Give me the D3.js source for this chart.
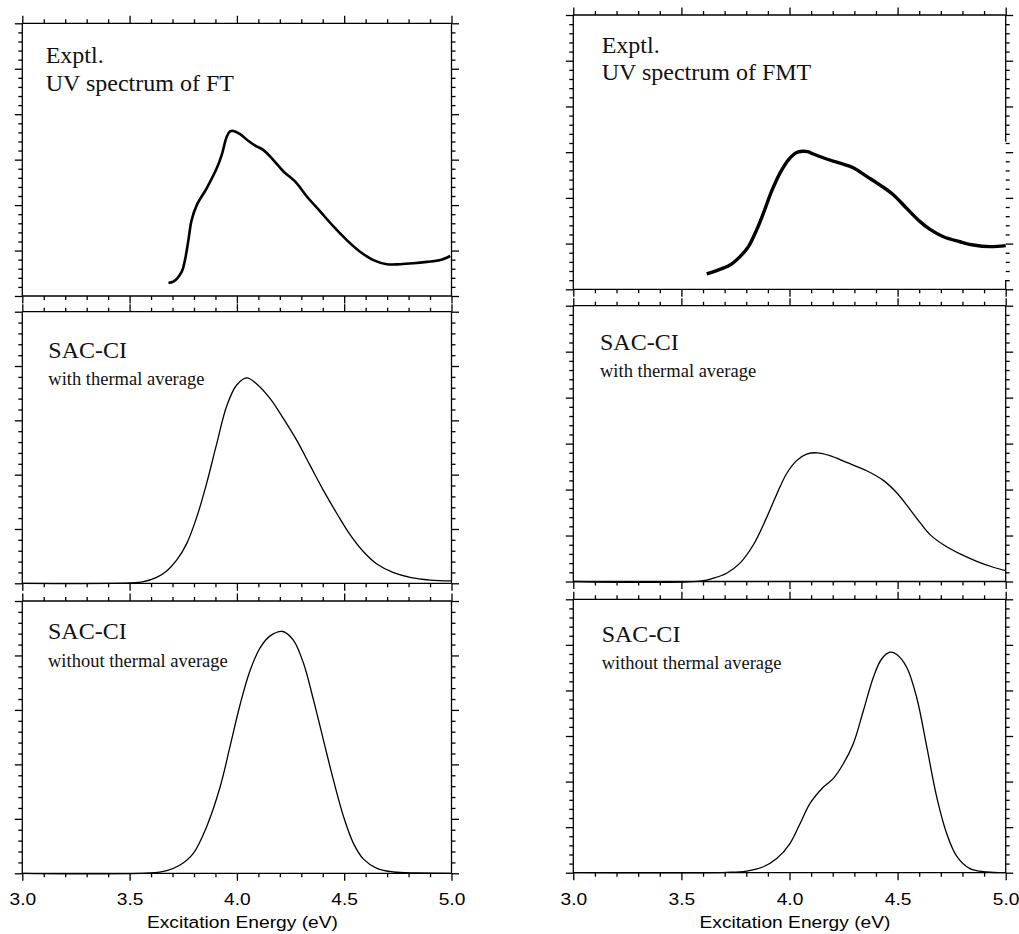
<!DOCTYPE html>
<html>
<head>
<meta charset="utf-8">
<script src="https://cdn.jsdelivr.net/npm/d3@7"></script>
<style>
  html, body { margin: 0; padding: 0; background: #fff; }
  svg { display: block; }
</style>
</head>
<body>
<svg id="chart" width="1019" height="934"></svg>
<script>
// ---------------- DATA ----------------
const xMajorTicks = [3.0, 3.5, 4.0, 4.5, 5.0];
const xTickLabels = ["3.0", "3.5", "4.0", "4.5", "5.0"];
const xAxisTitle = "Excitation Energy (eV)";

// FT experimental UV spectrum
const ftExptlE = [3.681,3.704,3.743,3.758,3.774,3.789,3.813,3.859,3.906,3.929,3.953,3.968,3.984,4.015,4.054,4.085,4.124,4.170,4.217,4.271,4.326,4.388,4.450,4.512,4.574,4.636,4.699,4.761,4.823,4.885,4.947,4.994];
const ftExptlI = [0.293,0.315,0.535,0.79,1.23,1.67,2.0,2.37,2.81,3.10,3.51,3.62,3.63,3.56,3.41,3.31,3.21,2.99,2.74,2.52,2.19,1.86,1.53,1.23,0.975,0.79,0.70,0.70,0.72,0.75,0.79,0.88];

// FMT experimental UV spectrum
const fmtExptlE = [3.617,3.663,3.725,3.771,3.810,3.848,3.879,3.917,3.956,3.995,4.033,4.060,4.085,4.110,4.172,4.234,4.295,4.357,4.419,4.480,4.542,4.604,4.650,4.712,4.789,4.850,4.928,5.0];
const fmtExptlI = [0.336,0.41,0.53,0.715,0.934,1.30,1.66,2.14,2.54,2.83,2.99,3.02,3.01,2.96,2.85,2.76,2.66,2.47,2.28,2.07,1.77,1.48,1.31,1.15,1.04,0.97,0.934,0.956];

// FT SAC-CI with thermal average
const ftThermE = [3.0,3.502,3.564,3.626,3.673,3.720,3.766,3.813,3.859,3.906,3.953,3.999,4.046,4.092,4.155,4.217,4.279,4.341,4.403,4.465,4.528,4.590,4.652,4.730,4.807,4.901,5.0];
const ftThermI = [0,0.006,0.03,0.11,0.226,0.43,0.73,1.22,1.84,2.57,3.27,3.65,3.78,3.67,3.40,3.03,2.63,2.17,1.71,1.29,0.89,0.58,0.355,0.196,0.11,0.06,0.043];

// FMT SAC-CI with thermal average
const fmtThermE = [3.0,3.586,3.648,3.709,3.771,3.833,3.894,3.941,3.987,4.033,4.079,4.126,4.187,4.264,4.357,4.434,4.496,4.557,4.604,4.650,4.712,4.789,4.866,4.943,5.0];
const fmtThermI = [0,0.007,0.073,0.18,0.40,0.80,1.39,1.90,2.35,2.63,2.77,2.80,2.74,2.59,2.41,2.20,1.93,1.57,1.28,1.02,0.80,0.60,0.44,0.31,0.234];

// FT SAC-CI without thermal average
const ftNoThermE = [3.0,3.595,3.673,3.735,3.797,3.859,3.922,3.968,4.015,4.061,4.108,4.155,4.214,4.263,4.310,4.357,4.403,4.450,4.497,4.543,4.590,4.652,4.730,4.838,5.0];
const ftNoThermI = [0,0.006,0.05,0.153,0.367,0.857,1.59,2.33,3.10,3.72,4.14,4.36,4.44,4.28,3.86,3.18,2.45,1.71,1.04,0.55,0.26,0.092,0.024,0.006,0];

// FMT SAC-CI without thermal average
const fmtNoThermE = [3.0,3.709,3.802,3.879,3.941,4.002,4.049,4.095,4.157,4.203,4.249,4.295,4.342,4.388,4.426,4.465,4.496,4.542,4.588,4.635,4.681,4.727,4.773,4.835,4.912,5.0];
const fmtNoThermI = [0,0.007,0.036,0.13,0.31,0.64,1.08,1.52,1.88,2.07,2.39,2.83,3.56,4.29,4.69,4.84,4.79,4.51,3.85,2.76,1.66,0.86,0.365,0.088,0.015,0];

// Panel labels
const panelTitles = ["Exptl.", "Exptl.", "SAC-CI", "SAC-CI", "SAC-CI", "SAC-CI"];
const panelSubtitles = ["UV spectrum of FT", "UV spectrum of FMT", "with thermal average", "with thermal average", "without thermal average", "without thermal average"];
// number of major y divisions in each panel's frame
const yDivisions = [6, 6, 5, 6, 5, 6];

// ---------------- LAYOUT ----------------
const cols = [{x0: 22.3, x1: 451.5}, {x0: 573.3, x1: 1005.7}];
const panels = [
  {col: 0, y0: 23.3,  y1: 296,   E: ftExptlE,    I: ftExptlI,    sw: 2.6, big: true,  tx: 45.7,  ty: 63.3,  sy: 90.7},
  {col: 1, y0: 15,    y1: 289.3, E: fmtExptlE,   I: fmtExptlI,   sw: 3.4, big: true,  tx: 601.7, ty: 52.7,  sy: 80, brokenRight: [141.7, 280]},
  {col: 0, y0: 311.7, y1: 583.3, E: ftThermE,    I: ftThermI,    sw: 1.3, big: false, tx: 48.3,  ty: 358.3, sy: 385},
  {col: 1, y0: 305.7, y1: 581.5, E: fmtThermE,   I: fmtThermI,   sw: 1.3, big: false, tx: 600,   ty: 350,   sy: 376.7},
  {col: 0, y0: 601,   y1: 873.3, E: ftNoThermE,  I: ftNoThermI,  sw: 1.3, big: false, tx: 48,    ty: 639.3, sy: 667.3, labels: true},
  {col: 1, y0: 599.3, y1: 872.7, E: fmtNoThermE, I: fmtNoThermI, sw: 1.3, big: false, tx: 601.7, ty: 641.7, sy: 669.3, labels: true}
];

const svg = d3.select("#chart");
const frameW = 1.3;
const majorLen = 7.5, minorLen = 4;
const xMinor = d3.range(30, 51, 1).map(d => d / 10).filter(v => !xMajorTicks.some(m => Math.abs(m - v) < 1e-9));

function styleAxis(g) {
  g.select(".domain").remove();
  g.selectAll(".tick line").attr("stroke", "#000").attr("stroke-width", frameW);
}

panels.forEach((p, i) => {
  const c = cols[p.col];
  const nDiv = yDivisions[i];
  const x = d3.scaleLinear().domain([3.0, 5.0]).range([c.x0, c.x1]);
  const y = d3.scaleLinear().domain([0, nDiv]).range([p.y1, p.y0]);
  const yMajor = d3.range(0, nDiv + 1, 1);
  const yMinor = d3.range(0, nDiv * 5 + 1, 1).filter(k => k % 5 !== 0).map(k => k / 5);

  const g = svg.append("g");

  const addAxis = (axisFn, scale, vals, len, transform) => {
    g.append("g").attr("transform", transform)
      .call(axisFn(scale).tickValues(vals).tickSize(len).tickFormat(""))
      .call(styleAxis);
  };
  addAxis(d3.axisBottom, x, xMajorTicks, majorLen, `translate(0,${p.y1})`);
  addAxis(d3.axisBottom, x, xMinor, minorLen, `translate(0,${p.y1})`);
  addAxis(d3.axisTop, x, xMajorTicks, majorLen, `translate(0,${p.y0})`);
  addAxis(d3.axisTop, x, xMinor, minorLen, `translate(0,${p.y0})`);
  addAxis(d3.axisLeft, y, yMajor, majorLen, `translate(${c.x0},0)`);
  addAxis(d3.axisLeft, y, yMinor, minorLen, `translate(${c.x0},0)`);
  addAxis(d3.axisRight, y, yMajor, majorLen, `translate(${c.x1},0)`);
  addAxis(d3.axisRight, y, yMinor, minorLen, `translate(${c.x1},0)`);

  // frame
  const fr = g.append("g").attr("stroke", "#000").attr("stroke-width", frameW).attr("fill", "none");
  fr.append("line").attr("x1", c.x0).attr("x2", c.x1).attr("y1", p.y0).attr("y2", p.y0);
  fr.append("line").attr("x1", c.x0).attr("x2", c.x1).attr("y1", p.y1).attr("y2", p.y1);
  fr.append("line").attr("x1", c.x0).attr("x2", c.x0).attr("y1", p.y0).attr("y2", p.y1);
  if (p.brokenRight) {
    fr.append("line").attr("x1", c.x1).attr("x2", c.x1).attr("y1", p.y0).attr("y2", p.brokenRight[0]);
    fr.append("line").attr("x1", c.x1).attr("x2", c.x1).attr("y1", p.brokenRight[1]).attr("y2", p.y1);
  } else {
    fr.append("line").attr("x1", c.x1).attr("x2", c.x1).attr("y1", p.y0).attr("y2", p.y1);
  }

  // tick labels (bottom panels)
  if (p.labels) {
    const la = g.append("g").attr("transform", `translate(0,${p.y1})`)
      .call(d3.axisBottom(x).tickValues(xMajorTicks).tickSize(0)
        .tickFormat((d, k) => xTickLabels[k]));
    la.select(".domain").remove();
    la.selectAll(".tick line").remove();
    la.selectAll(".tick text")
      .attr("y", 905 - p.y1).attr("dy", 0)
      .attr("transform", "scale(1.13,1)")
      .attr("fill", "#000")
      .style("font-family", "'Liberation Sans', Arial, sans-serif")
      .style("font-size", "17px");
    g.append("text")
      .attr("transform", `translate(${(c.x0 + c.x1) / 2 + 5.5},928) scale(1.13,1)`)
      .attr("text-anchor", "middle")
      .attr("fill", "#000")
      .style("font-family", "'Liberation Sans', Arial, sans-serif")
      .style("font-size", "17px")
      .text(xAxisTitle);
  }

  // curve
  const pts = p.E.map((e, k) => [e, p.I[k]]);
  const line = d3.line().x(d => x(d[0])).y(d => y(d[1])).curve(d3.curveCatmullRom.alpha(0.5));
  g.append("path").datum(pts)
    .attr("d", line)
    .attr("fill", "none")
    .attr("stroke", "#000")
    .attr("stroke-width", p.sw)
    .attr("stroke-linejoin", "round");

  // panel texts
  g.append("text")
    .attr("x", p.tx).attr("y", p.ty)
    .attr("fill", "#111")
    .style("font-family", "'Liberation Serif', 'Times New Roman', serif")
    .style("font-size", "24px")
    .text(panelTitles[i]);
  g.append("text")
    .attr("x", p.tx).attr("y", p.sy)
    .attr("fill", "#111")
    .style("font-family", "'Liberation Serif', 'Times New Roman', serif")
    .style("font-size", p.big ? "24px" : "18.5px")
    .text(panelSubtitles[i]);
});
</script>
</body>
</html>
